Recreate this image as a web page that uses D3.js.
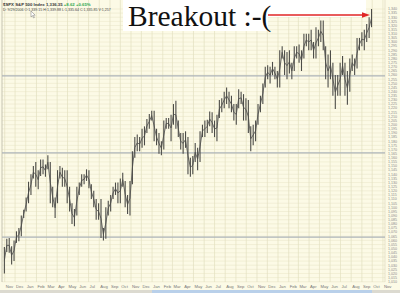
<!DOCTYPE html>
<meta charset="utf-8">

<style>
body {
    margin:0;
    background-color:white;
    font-family:"Liberation Sans", Arial, sans-serif;
    }
svg { display:block; }
</style>

<!-- Load d3.js -->
<script src="https://d3js.org/d3.v7.min.js"></script>

<div id="my_dataviz"></div>

<script>

// weekly high / low of the S&P 500, one pair per week (Fridays from 31 Oct 2003)
var firstWeek = "2003-10-31";
var weekHigh = [1052,1062,1063,1053,1060,1071,1075,1090,1097,1112,
                1131,1140,1150,1155,1145,1158,1158,1152,1163,1155,
                1125,1112,1145,1150,1148,1145,1145,1125,1105,1098,
                1125,1130,1140,1140,1146,1145,1128,1120,1110,1105,
                1110,1075,1100,1108,1115,1125,1130,1130,1135,1142,
                1132,1115,1132,1168,1185,1188,1185,1195,1198,1207,
                1213,1217,1217,1195,1190,1180,1205,1208,1208,1212,
                1225,1229,1205,1190,1190,1192,1185,1160,1162,1178,
                1172,1192,1200,1205,1206,1216,1215,1205,1212,1230,
                1232,1240,1245,1240,1235,1225,1225,1243,1240,1237,
                1232,1230,1198,1200,1205,1225,1235,1250,1270,1272,
                1270,1276,1270,1265,1290,1295,1290,1288,1290,1275,
                1295,1295,1297,1290,1310,1310,1310,1315,1300,1318,
                1315,1326,1326,1295,1285,1290,1275,1260,1260,1275,
                1283,1275,1265,1280,1285,1280,1305,1305,1312,1315,
                1322,1330,1340];
var weekLow  = [1020,1046,1045,1031,1035,1057,1059,1065,1087,1095,
                1105,1115,1135,1125,1122,1138,1140,1137,1146,1105,
                1100,1087,1105,1135,1125,1125,1105,1095,1080,1077,
                1090,1115,1125,1128,1132,1123,1110,1100,1085,1085,
                1063,1060,1062,1090,1095,1110,1115,1105,1105,1125,
                1100,1092,1090,1128,1160,1168,1168,1172,1175,1190,
                1195,1205,1180,1175,1165,1163,1170,1195,1195,1180,
                1200,1195,1185,1170,1165,1172,1140,1137,1140,1155,
                1145,1155,1185,1185,1190,1198,1190,1185,1180,1208,
                1215,1220,1225,1220,1215,1205,1200,1220,1225,1205,
                1205,1190,1168,1175,1180,1200,1215,1225,1245,1255,
                1250,1260,1255,1245,1245,1280,1260,1255,1262,1255,
                1265,1280,1275,1265,1280,1295,1290,1290,1280,1280,
                1295,1300,1290,1255,1245,1255,1235,1219,1235,1235,
                1260,1235,1224,1240,1265,1260,1268,1290,1295,1290,
                1300,1305,1318];

// levels of the three drawn horizontal lines
var drawnLevels = [1259, 1166, 1064];

// price labels on the right
var yTicks = d3.range(1010, 1341, 5);

var width = 400, height = 293;
var plotLeft = 2, plotRight = 385, plotBottom = 282;

var svg = d3.select("#my_dataviz")
  .append("svg")
    .attr("width", width)
    .attr("height", height);

// background
svg.append("rect")
    .attr("width", width).attr("height", height)
    .attr("fill", "#fcfae6");

// scales
var x = d3.scaleTime()
  .domain([new Date(2003, 9, 27), new Date(2006, 10, 7)])
  .range([3, plotRight]);
var y = d3.scaleLinear()
  .domain([1000, 1340])
  .range([290, 9]);

var weekDates = weekHigh.map(function(d, i) {
  return d3.timeDay.offset(d3.timeParse("%Y-%m-%d")(firstWeek), 7 * i);
});

// horizontal grid
svg.append("g").selectAll("line")
  .data(yTicks)
  .enter().append("line")
    .attr("x1", plotLeft).attr("x2", plotRight)
    .attr("y1", function(d) { return y(d); })
    .attr("y2", function(d) { return y(d); })
    .attr("stroke", "#ebe7cb")
    .attr("stroke-width", 0.6);

// month grid + labels
var months = d3.timeMonth.range(new Date(2003, 10, 1), new Date(2006, 10, 8));
svg.append("g").selectAll("line")
  .data(months)
  .enter().append("line")
    .attr("x1", function(d) { return x(d); })
    .attr("x2", function(d) { return x(d); })
    .attr("y1", 0).attr("y2", plotBottom)
    .attr("stroke", "#e3dfc0")
    .attr("stroke-width", 0.7);

svg.append("g").selectAll("text")
  .data(months)
  .enter().append("text")
    .attr("x", function(d) { return x(d) + 1; })
    .attr("y", 288)
    .attr("font-size", 4.2)
    .attr("fill", "#777")
    .text(d3.timeFormat("%b"));

// right price labels
svg.append("g").selectAll("text")
  .data(yTicks)
  .enter().append("text")
    .attr("x", 388)
    .attr("y", function(d) { return y(d) + 1.3; })
    .attr("font-size", 3.6)
    .attr("fill", "#888")
    .text(d3.format(","));

// frame
svg.append("line")
    .attr("x1", plotLeft).attr("x2", plotLeft)
    .attr("y1", 0).attr("y2", plotBottom)
    .attr("stroke", "#b9b6a4").attr("stroke-width", 0.8);
svg.append("line")
    .attr("x1", plotRight).attr("x2", plotRight)
    .attr("y1", 0).attr("y2", plotBottom)
    .attr("stroke", "#d8d4b8").attr("stroke-width", 0.6);

// the drawn horizontal lines
svg.append("g").selectAll("line")
  .data(drawnLevels)
  .enter().append("line")
    .attr("x1", plotLeft).attr("x2", plotRight)
    .attr("y1", function(d) { return y(d); })
    .attr("y2", function(d) { return y(d); })
    .attr("stroke", "#aeb4ba")
    .attr("stroke-width", 1.3);

// price bars
var weeks = weekHigh.map(function(d, i) {
  return {date: weekDates[i], hi: d, lo: weekLow[i]};
});

svg.append("path")
    .datum(weeks)
    .attr("fill", "none")
    .attr("stroke", "#6e6e6a")
    .attr("stroke-width", 1)
    .attr("d", d3.line()
      .x(function(d) { return x(d.date); })
      .y(function(d) { return y((d.hi + d.lo) / 2); }));

svg.append("g").selectAll("line")
  .data(weeks)
  .enter().append("line")
    .attr("x1", function(d) { return x(d.date); })
    .attr("x2", function(d) { return x(d.date); })
    .attr("y1", function(d) { return y(d.hi); })
    .attr("y2", function(d) { return y(d.lo); })
    .attr("stroke", "#4c4c48")
    .attr("stroke-width", 1.1);

// header
var head = svg.append("text").attr("x", 3).attr("y", 5.5)
    .attr("font-size", 4.3).attr("font-weight", "bold").attr("fill", "#333");
head.append("tspan").text("$SPX S&P 500 Index  ");
head.append("tspan").text("1,336.35  ");
head.append("tspan").attr("fill", "#2fa84f").text("+8.62  +0.65%");

svg.append("text").attr("x", 3).attr("y", 10.5)
    .attr("font-size", 3.6).attr("fill", "#444")
    .text("D: 9/29/2006  O:1,339.15  H:1,339.88  L:1,335.64  C:1,335.85  V:1,257");

// mouse pointer
svg.append("path")
    .attr("d", "M31,11 L31,17 L32.5,15.6 L33.6,18 L34.4,17.6 L33.4,15.3 L35.2,15.2 Z")
    .attr("fill", "#fff").attr("stroke", "#777").attr("stroke-width", 0.5);

// annotation
svg.append("rect")
    .attr("x", 123).attr("y", 0).attr("width", 145).attr("height", 31)
    .attr("fill", "#ffffff");
svg.append("rect")
    .attr("x", 268).attr("y", 0).attr("width", 98).attr("height", 17)
    .attr("fill", "#ffffff");

svg.append("text")
    .attr("x", 128).attr("y", 26)
    .attr("font-family", "'Liberation Serif', 'DejaVu Serif', serif")
    .attr("font-size", 29.5)
    .attr("fill", "#111")
    .text("Breakout :-(");

svg.append("line")
    .attr("x1", 268).attr("x2", 363)
    .attr("y1", 15).attr("y2", 15)
    .attr("stroke", "#e02626").attr("stroke-width", 1.5);
svg.append("path")
    .attr("d", "M362,12.3 L370,15 L362,17.7 Z")
    .attr("fill", "#e02626");

// scroll strip at the bottom
svg.append("rect")
    .attr("x", 0).attr("y", 290).attr("width", width).attr("height", 3)
    .attr("fill", "#dcdad0");
svg.append("rect")
    .attr("x", 152).attr("y", 290).attr("width", 220).attr("height", 3)
    .attr("fill", "#b9d0ea");

</script>
